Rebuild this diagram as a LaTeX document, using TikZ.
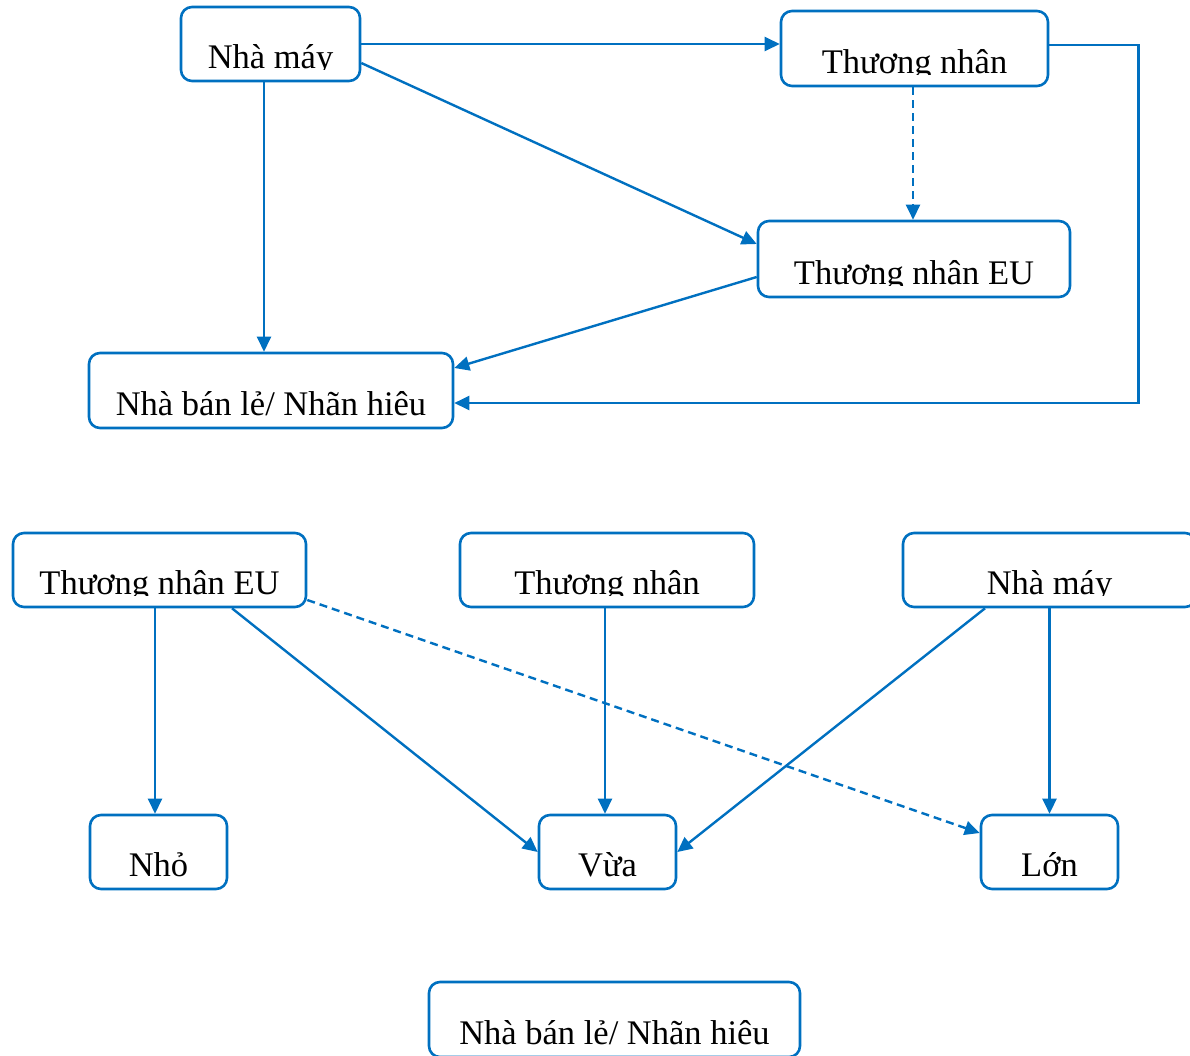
\documentclass[tikz,border=0pt]{standalone}
\usepackage{fontspec}
\setmainfont{Liberation Serif}
\usetikzlibrary{arrows.meta}
\definecolor{lb}{HTML}{0070C0}
\newcommand{\boxtext}[2]{%
  \begin{scope}
    \clip (#1.north west) rectangle ([yshift=13pt]#1.south east);
    \node[lbl] (#1-t) at ([yshift=14pt]#1.south) {#2};
  \end{scope}}
\begin{document}
\begin{tikzpicture}[x=1pt,y=-1pt,
  box/.style={draw=lb,line width=2.6pt,rounded corners=11pt,inner sep=0pt,fill=white},
  conn/.style={draw=lb,line width=2.4pt,-{Triangle[length=15pt,width=14pt]}},
  dsh/.style={conn,dash pattern=on 8pt off 5pt},
  lbl/.style={anchor=base,inner sep=0pt,font=\fontsize{34.5}{41}\selectfont}]
\useasboundingbox (0,0) rectangle (1190,1055);

% top diagram
\node[box,minimum width=179pt,minimum height=74pt] (nm1) at (270.5,44) {};
\node[box,minimum width=267pt,minimum height=75pt] (tn1) at (914.5,48.5) {};
\node[box,minimum width=312pt,minimum height=76pt] (eu1) at (914,259) {};
\node[box,minimum width=364pt,minimum height=75pt] (nbl1) at (271,390.5) {};
\boxtext{nm1}{Nhà máy}
\boxtext{tn1}{Thương nhân}
\boxtext{eu1}{Thương nhân EU}
\boxtext{nbl1}{Nhà bán lẻ/ Nhãn hiệu}

% bottom diagram
\node[box,minimum width=293pt,minimum height=74pt] (eu2) at (159.5,570) {};
\node[box,minimum width=294pt,minimum height=74pt] (tn2) at (607,570) {};
\node[box,minimum width=293pt,minimum height=74pt] (nm2) at (1049.5,570) {};
\node[box,minimum width=137pt,minimum height=74pt] (nho) at (158.5,852) {};
\node[box,minimum width=137pt,minimum height=74pt] (vua) at (607.5,852) {};
\node[box,minimum width=137pt,minimum height=74pt] (lon) at (1049.5,852) {};
\node[box,minimum width=371pt,minimum height=75pt] (nbl2) at (614.5,1019.5) {};
\boxtext{eu2}{Thương nhân EU}
\boxtext{tn2}{Thương nhân}
\boxtext{nm2}{Nhà máy}
\boxtext{nho}{Nhỏ}
\boxtext{vua}{Vừa}
\boxtext{lon}{Lớn}
\boxtext{nbl2}{Nhà bán lẻ/ Nhãn hiệu}

% top connectors
\draw[conn] (nm1.east) -- (nm1.east -| tn1.west);
\draw[conn] ([yshift=-19pt]nm1.east) -- ([yshift=15pt]eu1.west);
\draw[conn] ([xshift=-6.5pt]nm1.south) -- ([xshift=-6.5pt]nm1.south |- nbl1.north);
\draw[dsh] ([xshift=-1.5pt]tn1.south) -- ([xshift=-1.5pt]tn1.south |- eu1.north);
\draw[conn] ([yshift=-18pt]eu1.west) -- ([yshift=22.5pt]nbl1.east);
\draw[conn] ([yshift=3.5pt]tn1.east) -- ++(89,0) |- ([yshift=-12.5pt]nbl1.east);

% bottom connectors
\draw[conn] ([xshift=-4.5pt]eu2.south) -- ([xshift=-4.5pt]eu2.south |- nho.north);
\draw[conn] ([xshift=72.5pt]eu2.south) -- (vua.west);
\draw[dsh] ([yshift=-30pt]eu2.east) -- ([yshift=19pt]lon.west);
\draw[conn] ([xshift=-2pt]tn2.south) -- ([xshift=-2pt]tn2.south |- vua.north);
\draw[conn] ([xshift=-64.5pt]nm2.south) -- (vua.east);
\draw[conn] (nm2.south) -- (lon.north);
\end{tikzpicture}
\end{document}
